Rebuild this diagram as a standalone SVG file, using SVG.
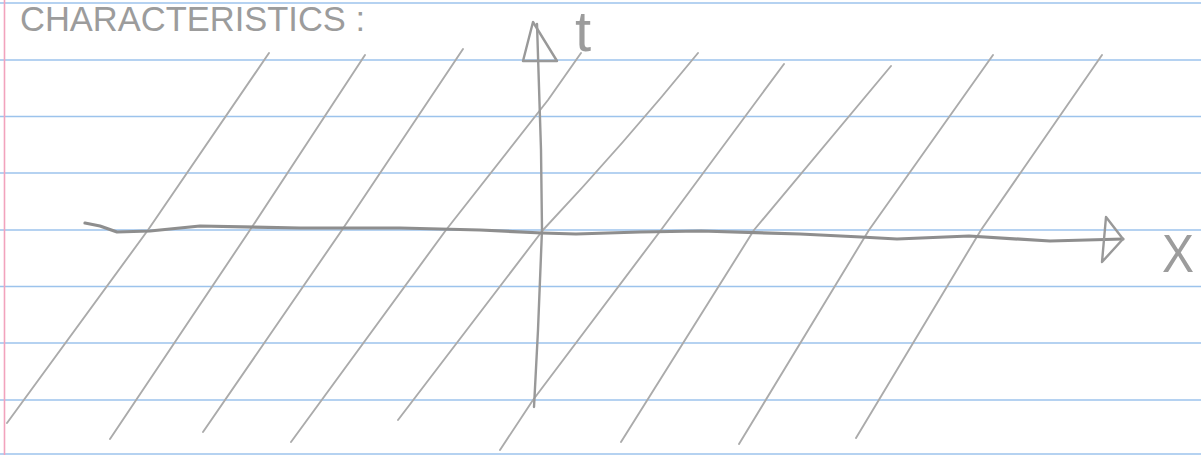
<svg xmlns="http://www.w3.org/2000/svg" width="1201" height="455" viewBox="0 0 1201 455">
<style>
.rule{stroke:#9cc3ec;stroke-width:1.6;fill:none}
.margin{stroke:#f2a3bd;stroke-width:1.6;fill:none}
.char{stroke:#ababab;stroke-width:1.9;fill:none;stroke-linecap:round;stroke-linejoin:round}
.axis{stroke:#999999;stroke-width:2.4;fill:none;stroke-linecap:round;stroke-linejoin:round}
.xaxis{stroke:#8e8e8e;stroke-width:3.2;fill:none;stroke-linecap:round;stroke-linejoin:round}
.pencil{fill:#9c9c9c;font-family:"Liberation Sans",Arial,sans-serif}
</style>
<rect x="0" y="0" width="1201" height="455" fill="#ffffff"/>
<g id="paper">
<line class="rule" x1="0" y1="3" x2="1201" y2="3"/>
<line class="rule" x1="0" y1="60" x2="1201" y2="60"/>
<line class="rule" x1="0" y1="116.5" x2="1201" y2="116.5"/>
<line class="rule" x1="0" y1="173" x2="1201" y2="173"/>
<line class="rule" x1="0" y1="230" x2="1201" y2="230"/>
<line class="rule" x1="0" y1="286.5" x2="1201" y2="286.5"/>
<line class="rule" x1="0" y1="343" x2="1201" y2="343"/>
<line class="rule" x1="0" y1="400" x2="1201" y2="400"/>
<line class="rule" x1="0" y1="454" x2="1201" y2="454"/>
<line class="margin" x1="4.5" y1="0" x2="4.5" y2="455"/>
</g>
<g id="title">
<text class="pencil" x="20" y="31" font-size="35" textLength="345" lengthAdjust="spacingAndGlyphs">CHARACTERISTICS :</text>
</g>
<g id="characteristics">
<polyline class="char" points="269,53 148,230 7,423"/>
<polyline class="char" points="365,55 250,230 110,439"/>
<polyline class="char" points="463,49 342,230 203,432"/>
<polyline class="char" points="581,53 548,100 446,230 291,442"/>
<path class="char" d="M698,53 C650,112 590,180 543,230 L398,420"/>
<polyline class="char" points="784,64 661,230 533,400 500,450"/>
<polyline class="char" points="891,66 754,230 621,442"/>
<polyline class="char" points="993,55 869,230 739,444"/>
<polyline class="char" points="1102,55 981,230 856,438"/>
</g>
<g id="t-axis">
<polyline class="axis" points="537,24 541,150 542,230 538,330 534,407"/>
<polygon class="axis" points="533,22 523,61 557,61"/>
<text class="pencil" x="575" y="51" font-size="58">t</text>
</g>
<g id="x-axis">
<polyline class="xaxis" points="85,223 100,226 117,232 150,231 200,226 300,228 400,228 480,230 542,233 576,234 640,232 701,231 800,234 861,237 897,239 969,236 1050,241 1123,239"/>
<polygon class="axis" points="1106,217 1123,239 1102,262"/>
<text class="pencil" x="1162" y="272" font-size="54" textLength="32" lengthAdjust="spacingAndGlyphs">X</text>
</g>
</svg>
